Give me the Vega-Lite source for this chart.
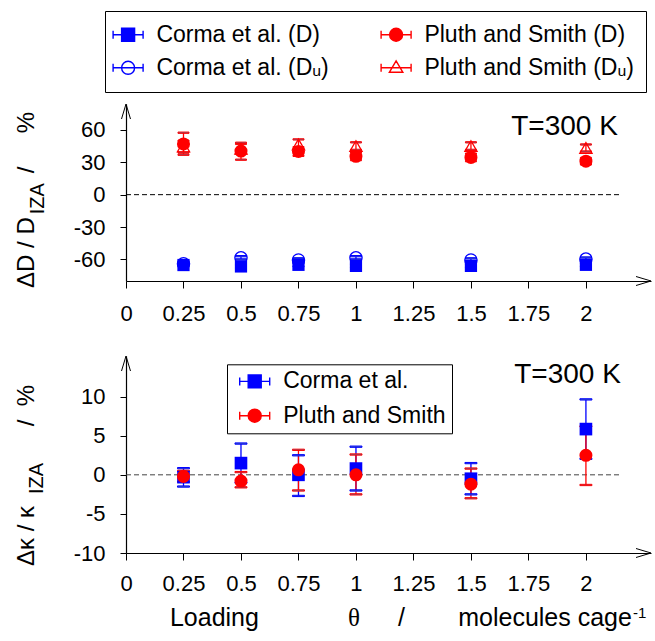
{
  "$schema": "https://vega.github.io/schema/vega-lite/v6.json",
  "padding": {"left": 15, "top": 10, "right": 2, "bottom": 2},
  "background": "white",
  "datasets": {
    "top": [
      {"x": 0.25, "series": "Corma et al. (Dᵤ)", "y": -64, "lo": -65.5, "hi": -62.5},
      {"x": 0.5, "series": "Corma et al. (Dᵤ)", "y": -58.5, "lo": -60, "hi": -57},
      {"x": 0.75, "series": "Corma et al. (Dᵤ)", "y": -60.5, "lo": -62, "hi": -59},
      {"x": 1, "series": "Corma et al. (Dᵤ)", "y": -58.5, "lo": -60, "hi": -57},
      {"x": 1.5, "series": "Corma et al. (Dᵤ)", "y": -60.5, "lo": -62, "hi": -59},
      {"x": 2, "series": "Corma et al. (Dᵤ)", "y": -59.7, "lo": -61.2, "hi": -58.2},
      {"x": 0.25, "series": "Pluth and Smith (Dᵤ)", "y": 44.5, "lo": 39, "hi": 50},
      {"x": 0.5, "series": "Pluth and Smith (Dᵤ)", "y": 42.5, "lo": 38, "hi": 47},
      {"x": 0.75, "series": "Pluth and Smith (Dᵤ)", "y": 46.5, "lo": 42.5, "hi": 51.2},
      {"x": 1, "series": "Pluth and Smith (Dᵤ)", "y": 45, "lo": 41.5, "hi": 48.5},
      {"x": 1.5, "series": "Pluth and Smith (Dᵤ)", "y": 45, "lo": 41.5, "hi": 48.5},
      {"x": 2, "series": "Pluth and Smith (Dᵤ)", "y": 43.3, "lo": 40, "hi": 46.5},
      {"x": 0.25, "series": "Corma et al. (D)", "y": -65.2, "lo": -66.7, "hi": -63.7},
      {"x": 0.5, "series": "Corma et al. (D)", "y": -66.5, "lo": -68, "hi": -65},
      {"x": 0.75, "series": "Corma et al. (D)", "y": -65, "lo": -66.5, "hi": -63.5},
      {"x": 1, "series": "Corma et al. (D)", "y": -66, "lo": -67.5, "hi": -64.5},
      {"x": 1.5, "series": "Corma et al. (D)", "y": -66, "lo": -67.5, "hi": -64.5},
      {"x": 2, "series": "Corma et al. (D)", "y": -65, "lo": -66.5, "hi": -63.5},
      {"x": 0.25, "series": "Pluth and Smith (D)", "y": 47, "lo": 37, "hi": 57.4},
      {"x": 0.5, "series": "Pluth and Smith (D)", "y": 40.4, "lo": 32.4, "hi": 48.1},
      {"x": 0.75, "series": "Pluth and Smith (D)", "y": 40, "lo": 36, "hi": 44},
      {"x": 1, "series": "Pluth and Smith (D)", "y": 35.5, "lo": 32, "hi": 39},
      {"x": 1.5, "series": "Pluth and Smith (D)", "y": 34.5, "lo": 31, "hi": 38},
      {"x": 2, "series": "Pluth and Smith (D)", "y": 31, "lo": 28, "hi": 34}
    ],
    "bot": [
      {"x": 0.25, "src": "Corma et al.", "y": -0.3, "lo": -1.5, "hi": 0.85},
      {"x": 0.5, "src": "Corma et al.", "y": 1.5, "lo": -1.0, "hi": 4.0},
      {"x": 0.75, "src": "Corma et al.", "y": 0.0, "lo": -2.7, "hi": 2.5},
      {"x": 1, "src": "Corma et al.", "y": 0.8, "lo": -2.0, "hi": 3.6},
      {"x": 1.5, "src": "Corma et al.", "y": -0.5, "lo": -2.5, "hi": 1.5},
      {"x": 2, "src": "Corma et al.", "y": 5.85, "lo": 2.05, "hi": 9.65},
      {"x": 0.25, "src": "Pluth and Smith", "y": -0.2, "lo": -0.9, "hi": 0.5},
      {"x": 0.5, "src": "Pluth and Smith", "y": -0.8, "lo": -1.6, "hi": 0.35},
      {"x": 0.75, "src": "Pluth and Smith", "y": 0.64, "lo": -2.0, "hi": 3.2},
      {"x": 1, "src": "Pluth and Smith", "y": 0.0, "lo": -2.5, "hi": 2.6},
      {"x": 1.5, "src": "Pluth and Smith", "y": -1.2, "lo": -3.0, "hi": 0.8},
      {"x": 2, "src": "Pluth and Smith", "y": 2.5, "lo": -1.3, "hi": 6.2}
    ]
  },
  "vconcat": [
    {
      "width": 525,
      "height": 177,
      "data": {"name": "top"},
      "layer": [
        {"data": {"values": [{}]}, "mark": {"type": "rule", "strokeDash": [5, 3], "color": "black", "strokeWidth": 1},
         "encoding": {"x": {"datum": 0}, "x2": {"datum": 2.146}, "y": {"datum": 0}}},
        {"data": {"values": [{}]}, "mark": {"type": "point", "shape": "M-1,-0.3L0,0L-1,0.3", "size": 900, "filled": false, "color": "black", "strokeWidth": 1, "opacity": 1},
         "encoding": {"x": {"datum": 2.283}, "y": {"datum": -80}}},
        {"data": {"values": [{}]}, "mark": {"type": "point", "shape": "M-0.3,1L0,0L0.3,1", "size": 900, "filled": false, "color": "black", "strokeWidth": 1, "opacity": 1},
         "encoding": {"x": {"datum": 0}, "y": {"datum": 84}}},
        {"mark": {"type": "point", "opacity": 0},
         "encoding": {
           "x": {"field": "x", "type": "quantitative", "title": null, "scale": {"domain": [0, 2.283], "nice": false, "zero": false},
                 "axis": {"title": null, "values": [0, 0.25, 0.5, 0.75, 1, 1.25, 1.5, 1.75, 2], "labelExpr": "'' + datum.value", "tickSize": 7, "labelPadding": 15}},
           "y": {"field": "y", "type": "quantitative", "title": null, "scale": {"domain": [-80, 84], "nice": false, "zero": false},
                 "axis": {"title": null, "values": [-60, -30, 0, 30, 60], "labelExpr": "'' + datum.value", "tickSize": 6, "labelPadding": 15}},
           "shape": {"field": "series", "type": "nominal", "title": null,
                     "scale": {"domain": ["Corma et al. (D)", "Corma et al. (Dᵤ)", "Pluth and Smith (D)", "Pluth and Smith (Dᵤ)"],
                               "range": ["M-3,-0.8L-3,0.8M-3,0L3,0M3,-0.8L3,0.8M-1.3,-1.3L1.3,-1.3L1.3,1.3L-1.3,1.3Z",
                                         "M-3,-0.8L-3,0.8M-3,0L3,0M3,-0.8L3,0.8M-1.3,0A1.3,1.3,0,1,1,1.3,0A1.3,1.3,0,1,1,-1.3,0Z",
                                         "M-3,-0.8L-3,0.8M-3,0L3,0M3,-0.8L3,0.8M-1.3,0A1.3,1.3,0,1,1,1.3,0A1.3,1.3,0,1,1,-1.3,0Z",
                                         "M-3,-0.8L-3,0.8M-3,0L3,0M3,-0.8L3,0.8M0,-1.4L1.35,0.9L-1.35,0.9Z"]},
                     "legend": {"title": null, "orient": "none", "legendX": -21, "legendY": -93, "columns": 2, "padding": 12, "rowPadding": 9.3, "columnPadding": 49, "symbolOffset": -0.4, "labelOffset": 16.8,
                                "symbolOpacity": 1, "strokeColor": "black", "symbolStrokeWidth": 1.4, "symbolSize": 100}},
           "fill": {"field": "series", "type": "nominal", "title": null,
                    "scale": {"domain": ["Corma et al. (D)", "Corma et al. (Dᵤ)", "Pluth and Smith (D)", "Pluth and Smith (Dᵤ)"], "range": ["#0000ff", "transparent", "#ff0000", "transparent"]}},
           "stroke": {"field": "series", "type": "nominal", "title": null,
                      "scale": {"domain": ["Corma et al. (D)", "Corma et al. (Dᵤ)", "Pluth and Smith (D)", "Pluth and Smith (Dᵤ)"], "range": ["#0000ff", "#0000ff", "#ff0000", "#ff0000"]}}
         }},
        {"mark": {"type": "rule", "strokeWidth": 1.3},
         "encoding": {"x": {"field": "x", "type": "quantitative", "title": null}, "y": {"field": "lo", "type": "quantitative", "title": null}, "y2": {"field": "hi"},
                      "stroke": {"field": "series", "type": "nominal", "title": null}}},
        {"mark": {"type": "tick", "orient": "horizontal", "size": 11, "thickness": 1.3, "opacity": 1},
         "encoding": {"x": {"field": "x", "type": "quantitative", "title": null}, "y": {"field": "lo", "type": "quantitative", "title": null},
                      "stroke": {"field": "series", "type": "nominal", "title": null}}},
        {"mark": {"type": "tick", "orient": "horizontal", "size": 11, "thickness": 1.3, "opacity": 1},
         "encoding": {"x": {"field": "x", "type": "quantitative", "title": null}, "y": {"field": "hi", "type": "quantitative", "title": null},
                      "stroke": {"field": "series", "type": "nominal", "title": null}}},
        {"transform": [{"filter": "datum.series === 'Corma et al. (Dᵤ)'"}],
         "mark": {"type": "point", "shape": "circle", "size": 150, "filled": false, "color": "#0000ff", "strokeWidth": 1.3, "opacity": 1},
         "encoding": {"x": {"field": "x", "type": "quantitative", "title": null}, "y": {"field": "y", "type": "quantitative", "title": null}}},
        {"transform": [{"filter": "datum.series === 'Pluth and Smith (Dᵤ)'"}],
         "mark": {"type": "point", "shape": "triangle-up", "size": 150, "filled": false, "color": "#ff0000", "strokeWidth": 1.3, "opacity": 1},
         "encoding": {"x": {"field": "x", "type": "quantitative", "title": null}, "y": {"field": "y", "type": "quantitative", "title": null}}},
        {"transform": [{"filter": "datum.series === 'Corma et al. (D)'"}],
         "mark": {"type": "point", "shape": "square", "size": 150, "filled": true, "color": "#0000ff", "opacity": 1},
         "encoding": {"x": {"field": "x", "type": "quantitative", "title": null}, "y": {"field": "y", "type": "quantitative", "title": null}}},
        {"transform": [{"filter": "datum.series === 'Pluth and Smith (D)'"}],
         "mark": {"type": "point", "shape": "circle", "size": 170, "filled": true, "color": "#ff0000", "opacity": 1},
         "encoding": {"x": {"field": "x", "type": "quantitative", "title": null}, "y": {"field": "y", "type": "quantitative", "title": null}}},
        {"data": {"values": [{}]}, "mark": {"type": "text", "text": "T=300 K", "fontSize": 28, "align": "right", "baseline": "alphabetic", "color": "black"},
         "encoding": {"x": {"datum": 2.139}, "y": {"datum": 55.0}}},
        {"data": {"values": [{}]}, "mark": {"type": "text", "text": "ΔD / D", "fontSize": 24, "angle": 270, "align": "left", "baseline": "alphabetic", "color": "black"},
         "encoding": {"x": {"datum": -0.4}, "y": {"datum": -86.4}}},
        {"data": {"values": [{}]}, "mark": {"type": "text", "text": "IZA", "fontSize": 20, "angle": 270, "align": "left", "baseline": "alphabetic", "color": "black"},
         "encoding": {"x": {"datum": -0.3565}, "y": {"datum": -18.2}}},
        {"data": {"values": [{}]}, "mark": {"type": "text", "text": "/", "fontSize": 24, "angle": 270, "align": "center", "baseline": "alphabetic", "color": "black"},
         "encoding": {"x": {"datum": -0.4}, "y": {"datum": 22.9}}},
        {"data": {"values": [{}]}, "mark": {"type": "text", "text": "%", "fontSize": 24, "angle": 270, "align": "center", "baseline": "alphabetic", "color": "black"},
         "encoding": {"x": {"datum": -0.4}, "y": {"datum": 66.9}}}
      ]
    },
    {
      "width": 525,
      "height": 197,
      "data": {"name": "bot"},
      "layer": [
        {"data": {"values": [{}]}, "mark": {"type": "rule", "strokeDash": [5, 3], "color": "#444444", "strokeWidth": 1},
         "encoding": {"x": {"datum": 0}, "x2": {"datum": 2.146}, "y": {"datum": 0}}},
        {"data": {"values": [{}]}, "mark": {"type": "point", "shape": "M-1,-0.3L0,0L-1,0.3", "size": 900, "filled": false, "color": "black", "strokeWidth": 1, "opacity": 1},
         "encoding": {"x": {"datum": 2.283}, "y": {"datum": -10}}},
        {"data": {"values": [{}]}, "mark": {"type": "point", "shape": "M-0.3,1L0,0L0.3,1", "size": 900, "filled": false, "color": "black", "strokeWidth": 1, "opacity": 1},
         "encoding": {"x": {"datum": 0}, "y": {"datum": 15.2}}},
        {"mark": {"type": "point", "opacity": 0},
         "encoding": {
           "x": {"field": "x", "type": "quantitative", "title": null, "scale": {"domain": [0, 2.283], "nice": false, "zero": false},
                 "axis": {"title": null, "values": [0, 0.25, 0.5, 0.75, 1, 1.25, 1.5, 1.75, 2], "labelExpr": "'' + datum.value", "tickSize": 7, "labelPadding": 13}},
           "y": {"field": "y", "type": "quantitative", "title": null, "scale": {"domain": [-10, 15.2], "nice": false, "zero": false},
                 "axis": {"title": null, "values": [-10, -5, 0, 5, 10], "labelExpr": "'' + datum.value", "tickSize": 6, "labelPadding": 15}},
           "shape": {"field": "src", "type": "nominal", "title": null,
                     "scale": {"domain": ["Corma et al.", "Pluth and Smith"],
                               "range": ["M-3,-0.8L-3,0.8M-3,0L3,0M3,-0.8L3,0.8M-1.3,-1.3L1.3,-1.3L1.3,1.3L-1.3,1.3Z",
                                         "M-3,-0.8L-3,0.8M-3,0L3,0M3,-0.8L3,0.8M-1.3,0A1.3,1.3,0,1,1,1.3,0A1.3,1.3,0,1,1,-1.3,0Z"]},
                     "legend": {"title": null, "orient": "none", "legendX": 101, "legendY": 8.3, "columns": 1, "padding": 5.6, "rowPadding": 10.3, "symbolOffset": 10.6, "labelOffset": 17,
                                "symbolOpacity": 1, "strokeColor": "black", "symbolStrokeWidth": 1.4, "symbolSize": 100}},
           "fill": {"field": "src", "type": "nominal", "title": null, "scale": {"domain": ["Corma et al.", "Pluth and Smith"], "range": ["#0000ff", "#ff0000"]}},
           "stroke": {"field": "src", "type": "nominal", "title": null, "scale": {"domain": ["Corma et al.", "Pluth and Smith"], "range": ["#0000ff", "#ff0000"]}}
         }},
        {"mark": {"type": "rule", "strokeWidth": 1.3},
         "encoding": {"x": {"field": "x", "type": "quantitative", "title": null}, "y": {"field": "lo", "type": "quantitative", "title": null}, "y2": {"field": "hi"},
                      "stroke": {"field": "src", "type": "nominal", "title": null}}},
        {"mark": {"type": "tick", "orient": "horizontal", "size": 12, "thickness": 1.3, "opacity": 1},
         "encoding": {"x": {"field": "x", "type": "quantitative", "title": null}, "y": {"field": "lo", "type": "quantitative", "title": null},
                      "stroke": {"field": "src", "type": "nominal", "title": null}}},
        {"mark": {"type": "tick", "orient": "horizontal", "size": 12, "thickness": 1.3, "opacity": 1},
         "encoding": {"x": {"field": "x", "type": "quantitative", "title": null}, "y": {"field": "hi", "type": "quantitative", "title": null},
                      "stroke": {"field": "src", "type": "nominal", "title": null}}},
        {"transform": [{"filter": "datum.src === 'Corma et al.'"}],
         "mark": {"type": "point", "shape": "square", "size": 160, "filled": true, "color": "#0000ff", "opacity": 1},
         "encoding": {"x": {"field": "x", "type": "quantitative", "title": null}, "y": {"field": "y", "type": "quantitative", "title": null}}},
        {"transform": [{"filter": "datum.src === 'Pluth and Smith'"}],
         "mark": {"type": "point", "shape": "circle", "size": 170, "filled": true, "color": "#ff0000", "opacity": 1},
         "encoding": {"x": {"field": "x", "type": "quantitative", "title": null}, "y": {"field": "y", "type": "quantitative", "title": null}}},
        {"data": {"values": [{}]}, "mark": {"type": "text", "text": "T=300 K", "fontSize": 28, "align": "right", "baseline": "alphabetic", "color": "black"},
         "encoding": {"x": {"datum": 2.152}, "y": {"datum": 11.78}}},
        {"data": {"values": [{}]}, "mark": {"type": "text", "text": "Δκ / κ", "fontSize": 24, "angle": 270, "align": "left", "baseline": "alphabetic", "color": "black"},
         "encoding": {"x": {"datum": -0.4}, "y": {"datum": -11.67}}},
        {"data": {"values": [{}]}, "mark": {"type": "text", "text": "IZA", "fontSize": 20, "angle": 270, "align": "left", "baseline": "alphabetic", "color": "black"},
         "encoding": {"x": {"datum": -0.361}, "y": {"datum": -2.46}}},
        {"data": {"values": [{}]}, "mark": {"type": "text", "text": "/", "fontSize": 24, "angle": 270, "align": "center", "baseline": "alphabetic", "color": "black"},
         "encoding": {"x": {"datum": -0.4}, "y": {"datum": 6.63}}},
        {"data": {"values": [{}]}, "mark": {"type": "text", "text": "%", "fontSize": 24, "angle": 270, "align": "center", "baseline": "alphabetic", "color": "black"},
         "encoding": {"x": {"datum": -0.4}, "y": {"datum": 10.14}}},
        {"data": {"values": [{}]}, "mark": {"type": "text", "text": "Loading", "fontSize": 25, "align": "left", "baseline": "alphabetic", "color": "black"},
         "encoding": {"x": {"datum": 0.191}, "y": {"datum": -19.34}}},
        {"data": {"values": [{}]}, "mark": {"type": "text", "text": "θ", "font": "Liberation Serif", "fontSize": 25, "align": "center", "baseline": "alphabetic", "color": "black"},
         "encoding": {"x": {"datum": 0.991}, "y": {"datum": -19.34}}},
        {"data": {"values": [{}]}, "mark": {"type": "text", "text": "/", "fontSize": 25, "align": "center", "baseline": "alphabetic", "color": "black"},
         "encoding": {"x": {"datum": 1.198}, "y": {"datum": -19.34}}},
        {"data": {"values": [{}]}, "mark": {"type": "text", "text": "molecules cage", "fontSize": 25, "align": "right", "baseline": "alphabetic", "color": "black"},
         "encoding": {"x": {"datum": 2.2}, "y": {"datum": -19.34}}},
        {"data": {"values": [{}]}, "mark": {"type": "text", "text": "-1", "fontSize": 15, "align": "left", "baseline": "alphabetic", "color": "black", "dx": 1},
         "encoding": {"x": {"datum": 2.2}, "y": {"datum": -18.36}}}
      ]
    }
  ],
  "spacing": 75,
  "bounds": "flush",
  "resolve": {"scale": {"x": "independent", "y": "independent", "shape": "independent", "fill": "independent", "stroke": "independent"}},
  "config": {
    "font": "Liberation Sans",
    "view": {"stroke": null},
    "axis": {"grid": false, "domainColor": "black", "domainWidth": 1.2, "tickColor": "black", "tickWidth": 1, "labelColor": "black", "labelFontSize": 22, "labelFont": "Liberation Sans", "labelFlush": false, "labelOverlap": false},
    "legend": {"labelFont": "Liberation Sans", "labelFontSize": 23, "labelColor": "black", "labelLimit": 0, "symbolSize": 100, "symbolStrokeWidth": 1.4, "labelBaseline": "middle", "strokeColor": "black"}
  }
}
